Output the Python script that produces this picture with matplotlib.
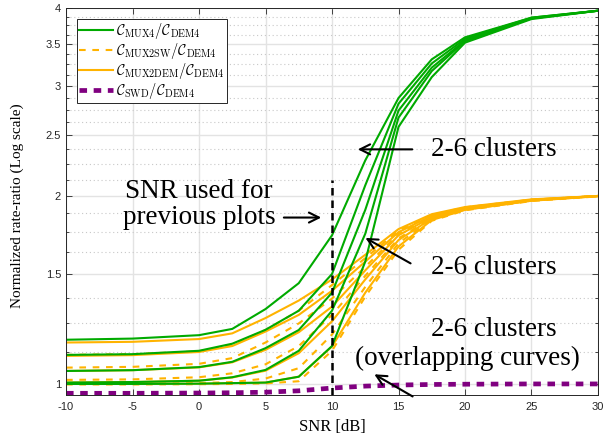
import numpy as np
import matplotlib
matplotlib.use("Agg")
import matplotlib.pyplot as plt
from matplotlib.ticker import FixedLocator, NullFormatter

plt.rcParams['mathtext.fontset'] = 'cm'

# SNR grid [dB]
snr = [-10, -5, 0, 2.5, 5, 7.5, 10, 12.5, 15, 17.5, 20, 25, 30]

# C_MUX4 / C_DEM4, one row per cluster count (2..6)
mux4 = [
    [1.177, 1.182, 1.197, 1.225, 1.318, 1.45, 1.73, 2.28, 2.87, 3.31, 3.59, 3.86, 3.96],
    [1.113, 1.116, 1.130, 1.160, 1.221, 1.31, 1.50, 2.08, 2.81, 3.26, 3.57, 3.86, 3.96],
    [1.049, 1.052, 1.064, 1.085, 1.141, 1.22, 1.40, 1.90, 2.74, 3.21, 3.55, 3.85, 3.96],
    [1.005, 1.007, 1.012, 1.025, 1.053, 1.13, 1.31, 1.74, 2.67, 3.17, 3.54, 3.85, 3.96],
    [1.000, 1.000, 1.001, 1.003, 1.005, 1.027, 1.15, 1.57, 2.58, 3.10, 3.52, 3.84, 3.96],
]

# C_MUX2SW / C_DEM4
mux2sw = [
    [1.113, 1.116, 1.128, 1.155, 1.220, 1.31, 1.44, 1.59, 1.76, 1.865, 1.918, 1.973, 2.0],
    [1.062, 1.065, 1.077, 1.100, 1.165, 1.25, 1.37, 1.54, 1.74, 1.855, 1.912, 1.970, 2.0],
    [1.015, 1.017, 1.025, 1.040, 1.075, 1.15, 1.29, 1.49, 1.71, 1.845, 1.907, 1.968, 2.0],
    [1.000, 1.000, 1.003, 1.007, 1.020, 1.06, 1.20, 1.43, 1.68, 1.835, 1.902, 1.966, 1.999],
    [0.998, 0.998, 0.999, 1.000, 1.002, 1.01, 1.13, 1.38, 1.64, 1.825, 1.897, 1.963, 1.997],
]

# C_MUX2DEM / C_DEM4
mux2dem = [
    [1.165, 1.168, 1.180, 1.205, 1.275, 1.36, 1.47, 1.61, 1.77, 1.870, 1.920, 1.975, 2.0],
    [1.109, 1.112, 1.125, 1.150, 1.213, 1.29, 1.41, 1.57, 1.75, 1.860, 1.915, 1.972, 2.0],
    [1.049, 1.052, 1.063, 1.083, 1.134, 1.21, 1.33, 1.52, 1.73, 1.850, 1.910, 1.970, 2.0],
    [1.005, 1.007, 1.012, 1.024, 1.050, 1.12, 1.26, 1.47, 1.70, 1.840, 1.905, 1.968, 2.0],
    [1.000, 1.000, 1.001, 1.003, 1.005, 1.027, 1.148, 1.40, 1.66, 1.830, 1.900, 1.965, 1.998],
]

# C_SWD / C_DEM4 (all cluster counts overlap)
swd = [0.966, 0.966, 0.967, 0.968, 0.970, 0.975, 0.985, 0.992, 0.996, 0.998, 0.999, 1.0, 1.0]

y_ticks = [1, 1.5, 2, 2.5, 3, 3.5, 4]
y_tick_labels = ['1', '1.5', '2', '2.5', '3', '3.5', '4']
x_ticks = [-10, -5, 0, 5, 10, 15, 20, 25, 30]

GREEN = '#00aa00'
ORANGE = '#ffb300'
PURPLE = '#800080'
AX_COL = '#262626'

fig = plt.figure(figsize=(6.03, 4.37), dpi=100)
ax = fig.add_axes([0.1095, 0.0961, 0.8822, 0.8856])

for i in range(len(mux4)):
    ax.plot(snr, mux2sw[i], color=ORANGE, lw=1.5, ls=(0, (3.2, 3.2)),
            label=r'$\mathcal{C}_{\mathrm{MUX2SW}}/\mathcal{C}_{\mathrm{DEM4}}$' if i == 0 else None)
    ax.plot(snr, mux2dem[i], color=ORANGE, lw=1.5,
            label=r'$\mathcal{C}_{\mathrm{MUX2DEM}}/\mathcal{C}_{\mathrm{DEM4}}$' if i == 0 else None)
for i in range(len(mux4)):
    ax.plot(snr, mux4[i], color=GREEN, lw=1.5,
            label=r'$\mathcal{C}_{\mathrm{MUX4}}/\mathcal{C}_{\mathrm{DEM4}}$' if i == 0 else None)
ax.plot(snr, swd, color=PURPLE, lw=3.4, ls=(0, (1.6, 1.4)),
        label=r'$\mathcal{C}_{\mathrm{SWD}}/\mathcal{C}_{\mathrm{DEM4}}$')

# SNR reference marker
ax.plot([10, 10], [0.96, 2.125], color='black', lw=1.8, ls=(0, (3, 2)), zorder=5)

ax.set_yscale('log')
ax.set_xlim(-10, 30)
ax.set_ylim(0.96, 4.0)
ax.yaxis.set_major_locator(FixedLocator(y_ticks))
ax.set_yticklabels(y_tick_labels)
ax.yaxis.set_minor_locator(FixedLocator(np.arange(1.0, 4.0, 0.125)))
ax.yaxis.set_minor_formatter(NullFormatter())
ax.set_xticks(x_ticks)
ax.set_xticklabels([str(t) for t in x_ticks])

ax.grid(True, which='major', color='#e3e3e3', lw=1.0, ls='-')
ax.grid(True, which='minor', axis='y', color='#c8c8c8', lw=0.8, ls=(0, (1, 2.5)))
ax.set_axisbelow(True)

ax.tick_params(which='both', direction='in', top=True, right=True, colors=AX_COL,
               labelsize=8, labelcolor=AX_COL)
ax.tick_params(which='major', length=4, width=0.6)
ax.tick_params(which='minor', length=2.5, width=0.6)
ax.tick_params(axis='x', pad=5)
for lab in ax.get_xticklabels() + ax.get_yticklabels():
    lab.set_fontfamily('Liberation Sans')
for sp in ax.spines.values():
    sp.set_color(AX_COL)
    sp.set_linewidth(0.7)

serif = 'Liberation Serif'
ax.set_xlabel('SNR [dB]', fontsize=12, family=serif, labelpad=5)
ax.set_ylabel('Normalized rate-ratio (Log scale)', fontsize=11, family=serif)
ax.yaxis.set_label_coords(-0.079, 0.49)

# Legend in fixed order
handles, labels = ax.get_legend_handles_labels()
order = [labels.index(l) for l in [
    r'$\mathcal{C}_{\mathrm{MUX4}}/\mathcal{C}_{\mathrm{DEM4}}$',
    r'$\mathcal{C}_{\mathrm{MUX2SW}}/\mathcal{C}_{\mathrm{DEM4}}$',
    r'$\mathcal{C}_{\mathrm{MUX2DEM}}/\mathcal{C}_{\mathrm{DEM4}}$',
    r'$\mathcal{C}_{\mathrm{SWD}}/\mathcal{C}_{\mathrm{DEM4}}$']]
leg = ax.legend([handles[k] for k in order], [labels[k] for k in order],
                loc='upper left', bbox_to_anchor=(0.02, 0.972), borderaxespad=0,
                fontsize=10.4, handlelength=2.35, handletextpad=0.25, borderpad=0.15,
                labelspacing=0.0, fancybox=False, framealpha=1, edgecolor=AX_COL)
leg.get_frame().set_linewidth(0.7)

# Annotations
fs = 19.5
arrow = dict(arrowstyle='->', color='black', lw=1.5, mutation_scale=18)
ax.text(22.2, 2.375, '2-6 clusters', fontsize=fs, family=serif, ha='center', va='center')
ax.annotate('', xy=(11.73, 2.375), xytext=(16.24, 2.375), arrowprops=arrow)

ax.text(0.0, 1.938, 'SNR used for\nprevious plots', fontsize=fs, family=serif,
        ha='center', va='center', linespacing=1.08)
ax.annotate('', xy=(9.4, 1.847), xytext=(6.17, 1.847), arrowprops=arrow)

ax.text(22.2, 1.535, '2-6 clusters', fontsize=fs, family=serif, ha='center', va='center')
ax.annotate('', xy=(12.33, 1.722), xytext=(16.09, 1.552), arrowprops=arrow)

ax.text(22.2, 1.221, '2-6 clusters', fontsize=fs, family=serif, ha='center', va='center')
ax.text(20.15, 1.100, '(overlapping curves)', fontsize=fs, family=serif, ha='center', va='center')
ax.annotate('', xy=(13.0, 1.0415), xytext=(16.24, 0.95), arrowprops=arrow,
            annotation_clip=False)

fig.savefig('out.png', dpi=100)
